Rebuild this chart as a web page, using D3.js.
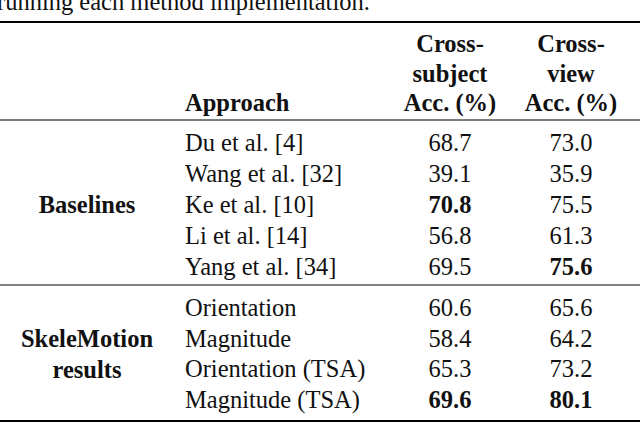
<!DOCTYPE html>
<html><head><meta charset="utf-8">
<script src="https://cdn.jsdelivr.net/npm/d3@7"></script>
<style>body{margin:0;background:#fff}text{font-family:"Liberation Serif","DejaVu Serif",serif;font-size:24.5px;fill:#111}</style>
</head><body><div id="tbl"></div>
<script>
"use strict"
const approaches = ["Du et al. [4]","Wang et al. [32]","Ke et al. [10]","Li et al. [14]","Yang et al. [34]",
                    "Orientation","Magnitude","Orientation (TSA)","Magnitude (TSA)"];
const crossSubject = [68.7,39.1,70.8,56.8,69.5,60.6,58.4,65.3,69.6];
const crossView = [73.0,35.9,75.5,61.3,75.6,65.6,64.2,73.2,80.1];
const boldSubject = [2,8];
const boldView = [4,8];
const groups = [{name:["Baselines"], rows:[0,4]}, {name:["SkeleMotion","results"], rows:[5,8]}];

const W = 640, H = 424;
const svg = d3.select("#tbl").append("svg").attr("width", W).attr("height", H);

svg.append("text").attr("x", -3).attr("y", 10).text("running each method implementation.");

const y1 = d3.scaleLinear().domain([0,4]).range([151,275]);
const y2 = d3.scaleLinear().domain([5,8]).range([316,408]);
const yRow = i => i < 5 ? y1(i) : y2(i);
const xCol = {group: 87, approach: 185, subj: 450, view: 571};

[[22,2],[120,1.2],[285,1.2],[421,2]].forEach(([y,w]) =>
    svg.append("line").attr("x1",0).attr("x2",W).attr("y1",y).attr("y2",y)
       .attr("stroke","#000").attr("stroke-width",w));

svg.append("text").attr("x", xCol.approach).attr("y", 111).attr("font-weight","bold").text("Approach");
[["Cross-","subject","Acc. (%)",xCol.subj],["Cross-","view","Acc. (%)",xCol.view]].forEach(h => {
    [h[0],h[1],h[2]].forEach((t,k) => svg.append("text").attr("x",h[3]).attr("y",52+k*29.5)
        .attr("text-anchor","middle").attr("font-weight","bold").text(t));
});

const rows = svg.selectAll(".row").data(approaches).enter().append("g").attr("class","row");
rows.append("text").attr("x", xCol.approach).attr("y",(d,i)=>yRow(i)).text(d=>d);
rows.append("text").attr("x", xCol.subj).attr("y",(d,i)=>yRow(i)).attr("text-anchor","middle")
    .attr("font-weight",(d,i)=>boldSubject.includes(i)?"bold":null).text((d,i)=>crossSubject[i].toFixed(1));
rows.append("text").attr("x", xCol.view).attr("y",(d,i)=>yRow(i)).attr("text-anchor","middle")
    .attr("font-weight",(d,i)=>boldView.includes(i)?"bold":null).text((d,i)=>crossView[i].toFixed(1));

groups.forEach(g => {
    const mid = (yRow(g.rows[0]) + yRow(g.rows[1])) / 2;
    const n = g.name.length;
    g.name.forEach((t,k) => svg.append("text").attr("x", xCol.group)
        .attr("y", mid + (k - (n-1)/2) * 31).attr("text-anchor","middle").attr("font-weight","bold").text(t));
});
</script></body></html>
